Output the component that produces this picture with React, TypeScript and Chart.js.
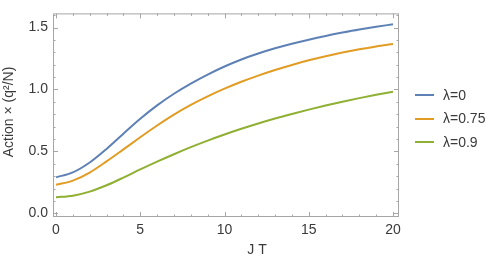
import React, { useEffect, useRef } from "react";
import { Chart, registerables } from "chart.js";

Chart.register(...registerables);

const jt = [0, 1, 2, 3, 4, 5, 6, 7, 8, 9, 10, 11, 12, 13, 14, 15, 16, 17, 18, 19, 20];
const lambda0 = [0.29, 0.33, 0.41, 0.52, 0.643, 0.763, 0.871, 0.965, 1.047, 1.12, 1.185, 1.242, 1.29, 1.332, 1.369, 1.402, 1.432, 1.459, 1.484, 1.506, 1.526];
const lambda075 = [0.23, 0.264, 0.329, 0.419, 0.516, 0.614, 0.709, 0.797, 0.875, 0.944, 1.006, 1.062, 1.112, 1.157, 1.198, 1.235, 1.268, 1.298, 1.324, 1.347, 1.367];
const lambda09 = [0.129, 0.142, 0.175, 0.226, 0.288, 0.354, 0.417, 0.477, 0.534, 0.587, 0.636, 0.682, 0.725, 0.765, 0.802, 0.837, 0.87, 0.901, 0.93, 0.957, 0.982];
const seriesLabels = ["λ=0", "λ=0.75", "λ=0.9"];
const seriesColors = ["#5E81B5", "#E19C24", "#8FB032"];
const xTitle = "J T";
const yTitle = "Action × (q²/N)";
const xMajor = [0, 5, 10, 15, 20];
const yMajor = [0, 0.5, 1.0, 1.5];

const FONT = "'Liberation Sans', Arial, sans-serif";
const FRAME = "#a6a6a6";
const TEXT = "#3a3a3a";

const framePlugin = {
  id: "framePlugin",
  afterDraw(chart: any) {
    const { ctx, chartArea: a, scales } = chart;
    const xs = scales.x;
    const ys = scales.y;
    ctx.save();
    ctx.strokeStyle = FRAME;
    ctx.lineWidth = 1;
    ctx.strokeRect(a.left + 0.5, a.top + 0.5, a.right - a.left - 1, a.bottom - a.top - 1);
    for (let v = 0; v <= 20; v += 1) {
      const major = v % 5 === 0;
      const len = major ? 5 : 2.5;
      const px = Math.round(xs.getPixelForValue(v)) + 0.5;
      ctx.beginPath();
      ctx.moveTo(px, a.bottom);
      ctx.lineTo(px, a.bottom - len);
      ctx.moveTo(px, a.top);
      ctx.lineTo(px, a.top + len);
      ctx.stroke();
    }
    for (let i = 0; i <= 16; i++) {
      const v = i / 10;
      const major = i % 5 === 0;
      const len = major ? 5 : 2.5;
      const py = Math.round(ys.getPixelForValue(v)) + 0.5;
      ctx.beginPath();
      ctx.moveTo(a.left, py);
      ctx.lineTo(a.left + len, py);
      ctx.moveTo(a.right, py);
      ctx.lineTo(a.right - len, py);
      ctx.stroke();
    }
    ctx.fillStyle = TEXT;
    ctx.font = `14px ${FONT}`;
    ctx.textAlign = "center";
    ctx.textBaseline = "middle";
    ctx.fillText(xTitle, 257, 250);
    ctx.save();
    ctx.translate(9, 112);
    ctx.rotate(-Math.PI / 2);
    ctx.fillText(yTitle, 0, 0);
    ctx.restore();
    ctx.textAlign = "left";
    ctx.font = `14px ${FONT}`;
    chart.data.datasets.forEach((ds: any, i: number) => {
      const y = 95 + i * 23.5;
      ctx.strokeStyle = ds.borderColor;
      ctx.lineWidth = 2;
      ctx.beginPath();
      ctx.moveTo(415, Math.round(y));
      ctx.lineTo(434, Math.round(y));
      ctx.stroke();
      ctx.fillStyle = TEXT;
      ctx.fillText(ds.label, 443, y + 1);
    });
    ctx.restore();
  },
};

export default function App() {
  const ref = useRef<HTMLCanvasElement>(null);
  useEffect(() => {
    const series = [lambda0, lambda075, lambda09];
    const chart = new Chart(ref.current!, {
      type: "line",
      data: {
        datasets: series.map((s, i) => ({
          label: seriesLabels[i],
          data: jt.map((x, j) => ({ x, y: s[j] })),
          borderColor: seriesColors[i],
          backgroundColor: seriesColors[i],
          borderWidth: 2,
          pointRadius: 0,
          cubicInterpolationMode: "monotone" as const,
          fill: false,
        })),
      },
      options: {
        responsive: false,
        animation: false,
        events: [],
        layout: { padding: { top: 1, right: 95, left: 0, bottom: 0 } },
        plugins: { legend: { display: false }, tooltip: { enabled: false }, title: { display: false } },
        scales: {
          x: {
            type: "linear",
            min: -0.178,
            max: 20.356,
            afterBuildTicks: (s: any) => {
              s.ticks = xMajor.map((v) => ({ value: v }));
            },
            afterFit: (s: any) => {
              s.height = 40;
            },
            grid: { display: false, drawTicks: false },
            border: { display: false },
            ticks: {
              color: TEXT,
              font: { family: FONT, size: 14 },
              padding: 5,
              maxRotation: 0,
              callback: (v: any) => String(v),
            },
          },
          y: {
            type: "linear",
            min: -0.03,
            max: 1.614,
            afterBuildTicks: (s: any) => {
              s.ticks = yMajor.map((v) => ({ value: v }));
            },
            afterFit: (s: any) => {
              s.width = 53;
            },
            grid: { display: false, drawTicks: false },
            border: { display: false },
            ticks: {
              color: TEXT,
              font: { family: FONT, size: 14 },
              padding: 5,
              callback: (v: any) => Number(v).toFixed(1),
            },
          },
        },
      },
      plugins: [framePlugin],
    });
    return () => chart.destroy();
  }, []);
  return (
    <div style={{ position: "absolute", left: 0, top: 0, width: 494, height: 257, background: "#fff" }}>
      <canvas ref={ref} width={494} height={257} style={{ display: "block" }} />
    </div>
  );
}
